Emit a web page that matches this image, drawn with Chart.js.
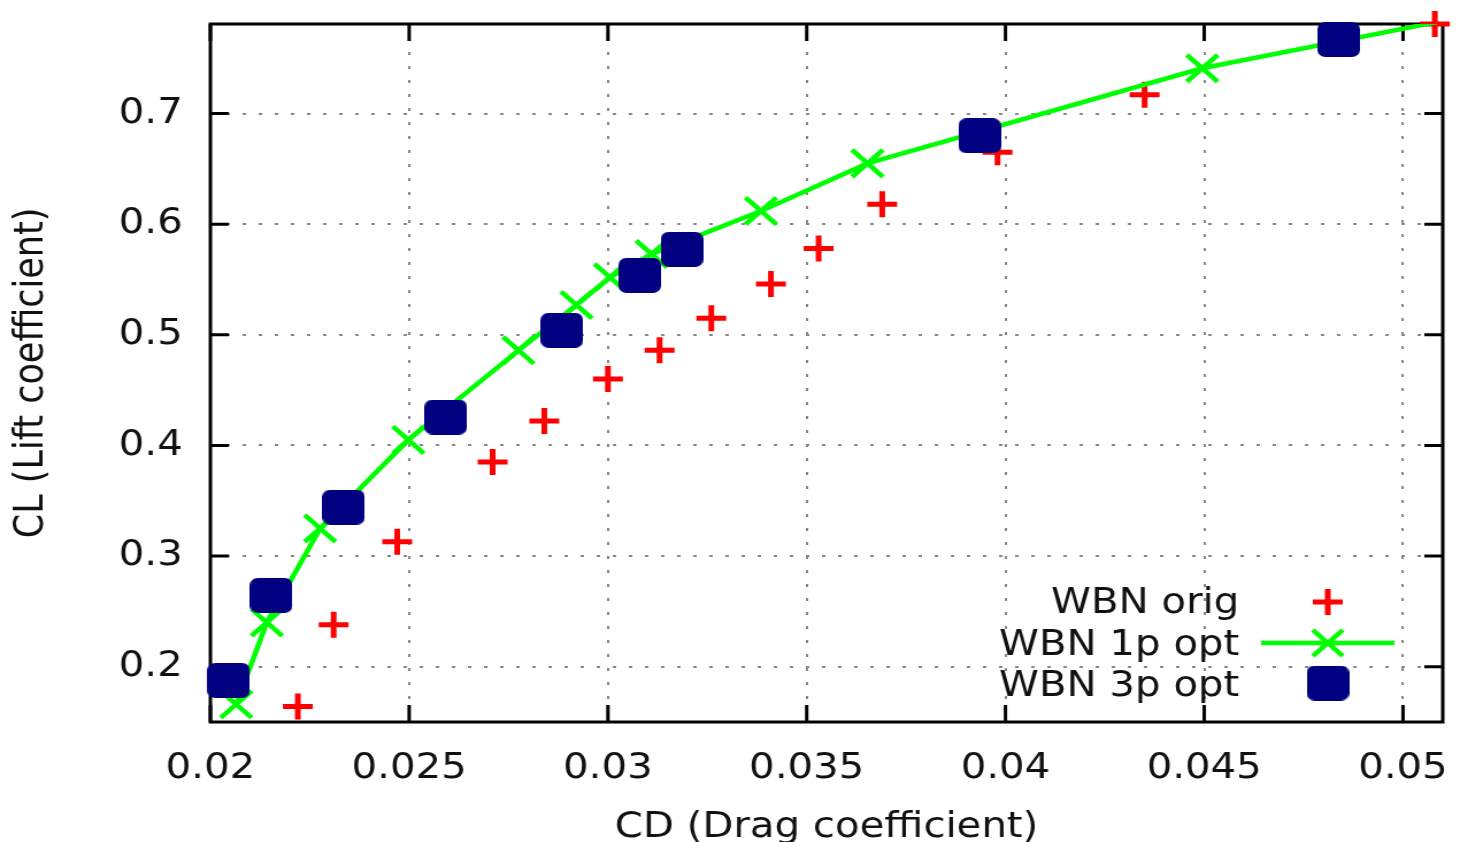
<!DOCTYPE html>
<html>
<head>
<meta charset="utf-8">
<script src="https://cdn.jsdelivr.net/npm/chart.js@4.4.1/dist/chart.umd.min.js"></script>
<style>
  html, body { margin: 0; padding: 0; background: #fff; overflow: hidden; }
  /* the reference is a gnuplot png scaled wider than tall, so stretch the canvas the same way */
  #wrap { position: absolute; left: 0; top: 0; width: 1270px; height: 842px;
          transform: scaleX(1.1496); transform-origin: 0 0; }
</style>
</head>
<body>
<div id="wrap"><canvas id="chart" width="1270" height="842"></canvas></div>
<script>
const seriesNames = ['WBN orig', 'WBN 1p opt', 'WBN 3p opt'];

const origCD = [0.0222, 0.0231, 0.0247, 0.0271, 0.0284, 0.0300, 0.0313, 0.0326, 0.0341, 0.0353, 0.0369, 0.0398, 0.0435, 0.0508];
const origCL = [0.164, 0.238, 0.313, 0.385, 0.422, 0.460, 0.486, 0.515, 0.546, 0.578, 0.618, 0.665, 0.717, 0.781];

const opt1CD = [0.02065, 0.02142, 0.02276, 0.02498, 0.02775, 0.02921, 0.03005, 0.0311, 0.03385, 0.03653, 0.04495, 0.0523];
const opt1CL = [0.166, 0.240, 0.325, 0.405, 0.486, 0.527, 0.552, 0.573, 0.612, 0.655, 0.741, 0.793];

const opt3CD = [0.02046, 0.02153, 0.02335, 0.02592, 0.02884, 0.0308, 0.03186, 0.03935, 0.04838];
const opt3CL = [0.1876, 0.2645, 0.3443, 0.4257, 0.5041, 0.5538, 0.5773, 0.680, 0.767];

const xTicks = [0.02, 0.025, 0.03, 0.035, 0.04, 0.045, 0.05];
const xTickLabels = ['0.02', '0.025', '0.03', '0.035', '0.04', '0.045', '0.05'];
const yTicks = [0.2, 0.3, 0.4, 0.5, 0.6, 0.7];
const yTickLabels = ['0.2', '0.3', '0.4', '0.5', '0.6', '0.7'];

const pts = (xs, ys) => xs.map((x, i) => ({ x: x, y: ys[i] }));

// navy rounded square used as the 3p marker
function makeSquare(w, h, r, color) {
  const c = document.createElement('canvas');
  c.width = w; c.height = h;
  const g = c.getContext('2d');
  g.fillStyle = color;
  g.beginPath();
  g.moveTo(r, 0);
  g.arcTo(w, 0, w, h, r);
  g.arcTo(w, h, 0, h, r);
  g.arcTo(0, h, 0, 0, r);
  g.arcTo(0, 0, w, 0, r);
  g.closePath();
  g.fill();
  return c;
}
const blueMark = makeSquare(37, 35, 7, '#000080');

Chart.defaults.font.family = '"DejaVu Sans", sans-serif';
Chart.defaults.color = '#111';

// gnuplot style frame with inward ticks on all four sides
const framePlugin = {
  id: 'frame',
  beforeDatasetsDraw(chart) {
    const { ctx, chartArea: a, scales: { x, y } } = chart;
    ctx.save();
    ctx.strokeStyle = '#000';
    ctx.lineWidth = 3;
    ctx.beginPath();
    x.ticks.forEach(t => {
      const px = x.getPixelForValue(t.value);
      ctx.moveTo(px, a.bottom); ctx.lineTo(px, a.bottom - 17);
      ctx.moveTo(px, a.top); ctx.lineTo(px, a.top + 17);
    });
    y.ticks.forEach(t => {
      const py = y.getPixelForValue(t.value);
      ctx.moveTo(a.left, py); ctx.lineTo(a.left + 16, py);
      ctx.moveTo(a.right, py); ctx.lineTo(a.right - 16, py);
    });
    ctx.stroke();
    ctx.strokeRect(a.left, a.top, a.right - a.left, a.bottom - a.top);
    ctx.restore();
  }
};

// key in the lower right corner, text first then sample
const keyPlugin = {
  id: 'key',
  afterDatasetsDraw(chart) {
    const { ctx, chartArea: a } = chart;
    const textRight = a.right - 177;
    const markX = a.right - 100;
    const rows = [a.bottom - 118, a.bottom - 76, a.bottom - 35];
    ctx.save();
    ctx.font = '35px "DejaVu Sans"';
    ctx.fillStyle = '#111';
    ctx.textAlign = 'right';
    ctx.textBaseline = 'middle';
    seriesNames.forEach((n, i) => ctx.fillText(n, textRight, rows[i]));

    // orig: red plus
    let my = rows[0] - 2;
    ctx.strokeStyle = '#ff0000';
    ctx.lineWidth = 5;
    ctx.beginPath();
    ctx.moveTo(markX - 13, my); ctx.lineTo(markX + 13, my);
    ctx.moveTo(markX, my - 13); ctx.lineTo(markX, my + 13);
    ctx.stroke();

    // 1p: green line with x
    my = rows[1] - 3;
    ctx.strokeStyle = '#00ff00';
    ctx.lineWidth = 4.5;
    ctx.beginPath();
    ctx.moveTo(markX - 58, my); ctx.lineTo(markX + 58, my);
    const d = 13;
    ctx.moveTo(markX - d, my - d); ctx.lineTo(markX + d, my + d);
    ctx.moveTo(markX - d, my + d); ctx.lineTo(markX + d, my - d);
    ctx.stroke();

    // 3p: navy square
    my = rows[2] - 4;
    ctx.drawImage(blueMark, markX - blueMark.width / 2, my - blueMark.height / 2);
    ctx.restore();
  }
};

new Chart(document.getElementById('chart'), {
  type: 'scatter',
  data: {
    datasets: [
      {
        label: seriesNames[0],
        data: pts(origCD, origCL),
        pointStyle: 'cross',
        pointRadius: 13,
        pointBorderWidth: 5,
        borderColor: '#ff0000',
        backgroundColor: '#ff0000',
        clip: false,
        order: 2
      },
      {
        label: seriesNames[1],
        data: pts(opt1CD, opt1CL),
        showLine: true,
        borderColor: '#00ff00',
        backgroundColor: '#00ff00',
        borderWidth: 4.5,
        pointStyle: 'crossRot',
        pointRadius: 19,
        pointBorderWidth: 4.5,
        order: 1
      },
      {
        label: seriesNames[2],
        data: pts(opt3CD, opt3CL),
        pointStyle: blueMark,
        pointRadius: 18,
        backgroundColor: '#000080',
        borderColor: '#000080',
        clip: false,
        order: 0
      }
    ]
  },
  options: {
    responsive: false,
    devicePixelRatio: 1,
    animation: false,
    layout: { autoPadding: false, padding: { left: 0, right: 15, top: 24, bottom: 0 } },
    plugins: {
      legend: { display: false },
      tooltip: { enabled: false }
    },
    scales: {
      x: {
        type: 'linear',
        min: 0.02,
        max: 0.051,
        afterBuildTicks: s => { s.ticks = xTicks.map(v => ({ value: v })); },
        afterFit: s => { s.height = 120; s.paddingLeft = 0; s.paddingRight = 0; },
        ticks: {
          autoSkip: false,
          maxRotation: 0,
          padding: 26,
          font: { size: 35 },
          color: '#111',
          callback: (v, i) => xTickLabels[i]
        },
        grid: { color: '#888', lineWidth: 2, drawTicks: false },
        border: { display: false, dash: [3, 11] },
        title: {
          display: true,
          text: 'CD (Drag coefficient)',
          font: { size: 35 },
          color: '#111',
          padding: { top: 0, bottom: -7 }
        }
      },
      y: {
        type: 'linear',
        min: 0.15,
        max: 0.781,
        afterBuildTicks: s => { s.ticks = yTicks.map(v => ({ value: v })); },
        afterFit: s => { s.width = 183; s.paddingTop = 0; s.paddingBottom = 0; },
        ticks: {
          autoSkip: false,
          padding: 24,
          font: { size: 35 },
          color: '#111',
          callback: (v, i) => yTickLabels[i]
        },
        grid: { color: '#888', lineWidth: 2, drawTicks: false },
        border: { display: false, dash: [3, 11] },
        title: {
          display: true,
          text: 'CL (Lift coefficient)',
          font: { size: 35 },
          color: '#111',
          padding: { top: 7, bottom: 0 }
        }
      }
    }
  },
  plugins: [framePlugin, keyPlugin]
});
</script>
</body>
</html>
